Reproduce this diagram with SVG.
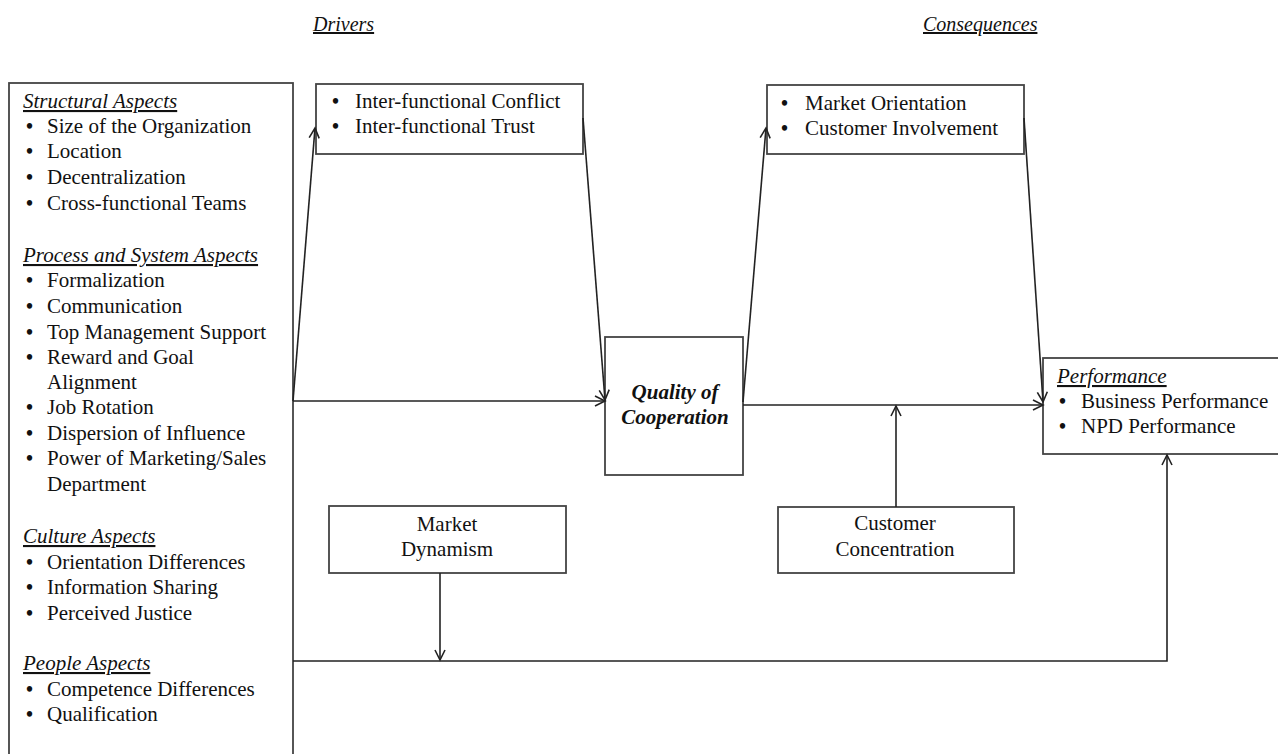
<svg xmlns="http://www.w3.org/2000/svg" width="1278" height="754" viewBox="0 0 1278 754">
<defs>
<style>
text{font-family:"Liberation Serif","Times New Roman",serif;font-size:21px;fill:#111}
.h{font-style:italic;text-decoration:underline}
.t{font-size:20px}
.b{font-weight:bold;font-size:20px}
.q{font-style:italic;font-weight:bold;font-size:21px}
.box{fill:#fff;stroke:#444;stroke-width:1.8}
.c{fill:none;stroke:#222;stroke-width:1.6}
.m{text-anchor:middle}
</style>
<marker id="ah" markerWidth="14" markerHeight="14" refX="11" refY="6" orient="auto" markerUnits="userSpaceOnUse">
<path d="M1,1 L11,6 L1,11" fill="none" stroke="#222" stroke-width="1.6"/>
</marker>
</defs>
<rect width="1278" height="754" fill="#fff"/>

<g id="titles">
<text class="h t" x="313" y="31">Drivers</text>
<text class="h t" x="923" y="31">Consequences</text>
</g>

<g id="drivers-box">
<rect class="box" x="9" y="83" width="284" height="690"/>
<text class="h" x="23" y="108">Structural Aspects</text>
<text class="b" x="26" y="133">•</text><text x="47" y="133">Size of the Organization</text>
<text class="b" x="26" y="158">•</text><text x="47" y="158">Location</text>
<text class="b" x="26" y="184">•</text><text x="47" y="184">Decentralization</text>
<text class="b" x="26" y="210">•</text><text x="47" y="210">Cross-functional Teams</text>
<text class="h" x="23" y="262">Process and System Aspects</text>
<text class="b" x="26" y="287">•</text><text x="47" y="287">Formalization</text>
<text class="b" x="26" y="313">•</text><text x="47" y="313">Communication</text>
<text class="b" x="26" y="339">•</text><text x="47" y="339">Top Management Support</text>
<text class="b" x="26" y="364">•</text><text x="47" y="364">Reward and Goal</text>
<text x="47" y="389">Alignment</text>
<text class="b" x="26" y="414">•</text><text x="47" y="414">Job Rotation</text>
<text class="b" x="26" y="440">•</text><text x="47" y="440">Dispersion of Influence</text>
<text class="b" x="26" y="465">•</text><text x="47" y="465">Power of Marketing/Sales</text>
<text x="47" y="491">Department</text>
<text class="h" x="23" y="543">Culture Aspects</text>
<text class="b" x="26" y="569">•</text><text x="47" y="569">Orientation Differences</text>
<text class="b" x="26" y="594">•</text><text x="47" y="594">Information Sharing</text>
<text class="b" x="26" y="620">•</text><text x="47" y="620">Perceived Justice</text>
<text class="h" x="23" y="670">People Aspects</text>
<text class="b" x="26" y="696">•</text><text x="47" y="696">Competence Differences</text>
<text class="b" x="26" y="721">•</text><text x="47" y="721">Qualification</text>
</g>

<g id="conflict-trust">
<rect class="box" x="316" y="84" width="267" height="70"/>
<text class="b" x="332" y="108">•</text><text x="355" y="108">Inter-functional Conflict</text>
<text class="b" x="332" y="133">•</text><text x="355" y="133">Inter-functional Trust</text>
</g>

<g id="market-orientation">
<rect class="box" x="767" y="85" width="257" height="69"/>
<text class="b" x="781" y="110">•</text><text x="805" y="110">Market Orientation</text>
<text class="b" x="781" y="135">•</text><text x="805" y="135">Customer Involvement</text>
</g>

<g id="quality">
<rect class="box" x="605" y="337" width="138" height="138"/>
<text class="q m" x="675" y="399">Quality of</text>
<text class="q m" x="675" y="424">Cooperation</text>
</g>

<g id="performance">
<rect class="box" x="1043" y="358" width="250" height="96"/>
<text class="h" x="1057" y="383">Performance</text>
<text class="b" x="1059" y="408">•</text><text x="1081" y="408">Business Performance</text>
<text class="b" x="1059" y="433">•</text><text x="1081" y="433">NPD Performance</text>
</g>

<g id="market-dynamism">
<rect class="box" x="329" y="506" width="237" height="67"/>
<text class="m" x="447" y="531">Market</text>
<text class="m" x="447" y="556">Dynamism</text>
</g>

<g id="customer-concentration">
<rect class="box" x="778" y="507" width="236" height="66"/>
<text class="m" x="895" y="530">Customer</text>
<text class="m" x="895" y="556">Concentration</text>
</g>

<g id="connectors">
<path class="c" d="M293,401 L605,401" marker-end="url(#ah)"/>
<path class="c" d="M293,401 L315,128" marker-end="url(#ah)"/>
<path class="c" d="M583,118 L605,400" marker-end="url(#ah)"/>
<path class="c" d="M743,402 L766,128" marker-end="url(#ah)"/>
<path class="c" d="M1024,118 L1043,402" marker-end="url(#ah)"/>
<path class="c" d="M743,405 L1043,405" marker-end="url(#ah)"/>
<path class="c" d="M896,507 L896,406" marker-end="url(#ah)"/>
<path class="c" d="M440,573 L440,660" marker-end="url(#ah)"/>
<path class="c" d="M293,661 L1167,661 L1167,455" marker-end="url(#ah)"/>
</g>
</svg>
